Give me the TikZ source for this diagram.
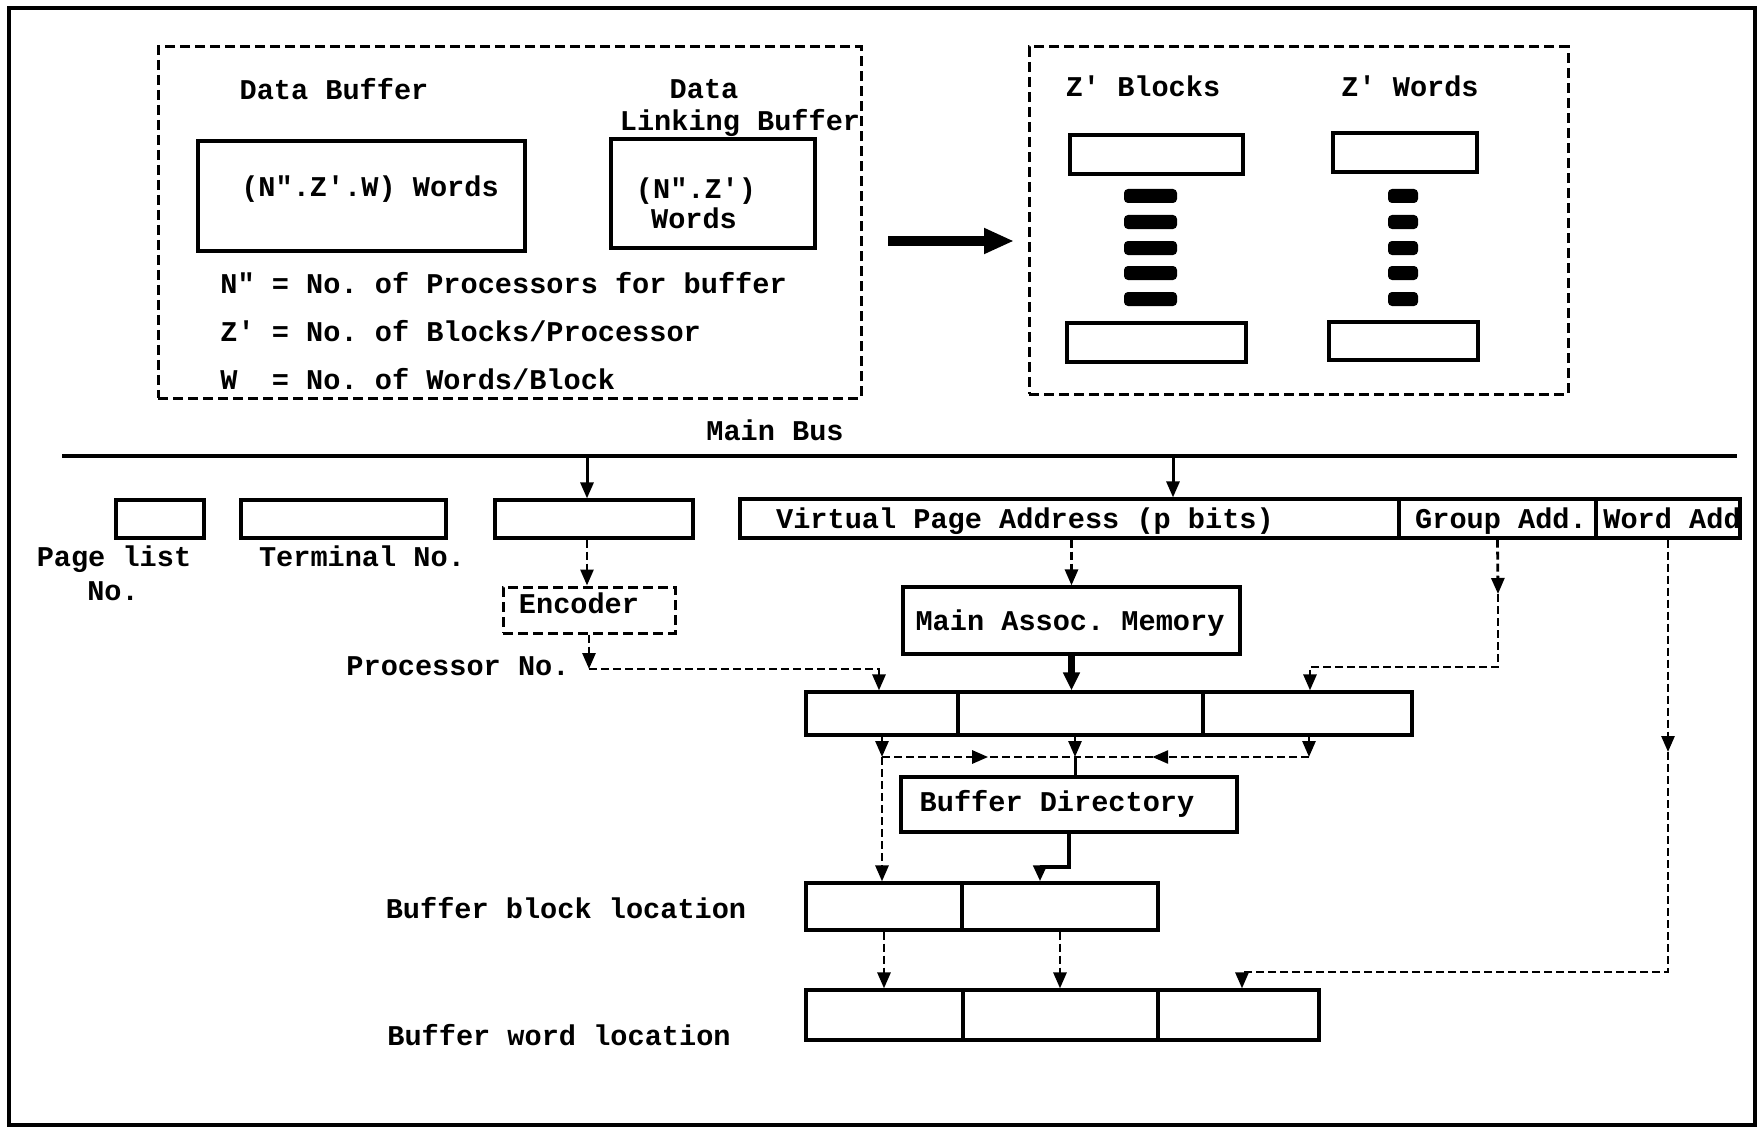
\documentclass[tikz,border=0pt]{standalone}
\usepackage{fontspec}
\newfontfamily\tw{Liberation Mono}
\usetikzlibrary{arrows.meta,fit,decorations.markings}
\tikzset{
  outerframe/.style={draw, line width=1.6pt},
  box/.style={draw, line width=1.6pt, inner sep=0pt},
  dbox/.style={draw, line width=1.5pt, dash pattern=on 5pt off 2.5pt, inner sep=0pt},
  txt/.style={inner sep=0pt, text height=8.2pt, text depth=0pt},
  headA/.style={-{Triangle[length=8pt,width=6.5pt]}},
  sline/.style={line width=1.5pt},
  dline/.style={line width=1.4pt, dash pattern=on 4pt off 2pt},
  darr/.style={dline, headA},
  sarr/.style={sline, headA},
  tarr/.style={line width=3.5pt, -{Triangle[length=9pt,width=8pt]}},
  busline/.style={line width=1.6pt},
  mida/.style={postaction={decorate}, decoration={markings, mark=at position #1 with {\arrow{Triangle[length=8pt,width=6.5pt]}}}}
}
\begin{document}
\frenchspacing
\begin{tikzpicture}[x=0.5pt,y=-0.5pt, font=\tw\bfseries\fontsize{14.3}{17}\selectfont\frenchspacing]
\useasboundingbox (0,0) rectangle (1763,1129);
\fill[white] (0,0) rectangle (1763,1129);
\draw[outerframe] (9,8) rectangle (1755,1125);

% ---------- top left group ----------
\node[dbox, fit={(158,47) (861,398)}] (tl) {};
\node[txt] (tDB) at (334,91) {Data Buffer};
\node[txt] (tData) at (704,90) {Data};
\node[txt] (tLB) at (740,122) {Linking Buffer};
\node[box, fit={(198,141) (525,251)}] (db) {};
\node[txt] (tdb) at (370,188) {(N".Z'.W) Words};
\node[box, fit={(611,139) (815,248)}] (lb) {};
\node[txt] (tlb1) at (696,190) {(N".Z')};
\node[txt] (tlb2) at (694,220) {Words};
\node[txt, anchor=west] (l1) at (220,285) {N" = No. of Processors for buffer};
\node[txt, anchor=west] (l2) at (220,333) {Z' = No. of Blocks/Processor};
\node[txt, anchor=west] (l3) at (220,381) {W~~= No. of Words/Block};

% thick arrow
\coordinate (ba1) at (888,241);
\coordinate (ba2) at (1014,241);
\draw[line width=5pt, -{Triangle[length=15pt,width=12pt]}] (ba1) -- (ba2);

% ---------- top right group ----------
\node[dbox, fit={(1029,47) (1568,394)}] (tr) {};
\node[txt] (tZB) at (1143,88) {Z' Blocks};
\node[txt] (tZW) at (1410,88) {Z' Words};
\node[box, fit={(1070,135) (1243,174)}] (zb1) {};
\node[box, fit={(1067,323) (1246,362)}] (zb2) {};
\node[box, fit={(1333,133) (1477,172)}] (zw1) {};
\node[box, fit={(1329,322) (1478,360)}] (zw2) {};
\foreach \yy in {196,222,248,273,299} {
  \fill[rounded corners=2pt] (1124,\yy-7) rectangle (1177,\yy+7);
  \fill[rounded corners=2pt] (1388,\yy-7) rectangle (1418,\yy+7);
}

% ---------- main bus ----------
\node[txt] (tMB) at (775,432) {Main Bus};
\coordinate (busL) at (62,456);
\coordinate (busR) at (1737,456);
\draw[busline] (busL) -- (busR);

% register row 1
\node[box, fit={(116,500) (204,538)}] (pl) {};
\node[box, fit={(241,500) (446,538)}] (tn) {};
\node[box, fit={(495,500) (693,538)}] (pn) {};
\node[box, fit={(740,499) (1399,538)}] (vpa) {};
\node[box, fit={(1399,499) (1596,538)}] (grp) {};
\node[box, fit={(1596,499) (1740,538)}] (wad) {};
\node[txt] (tvpa) at (1025,520) {Virtual Page Address (p bits)};
\node[txt] (tgrp) at (1501,520) {Group Add.};
\node[txt, anchor=west] (twad) at (1603,520) {Word Add};
\node[txt] (tpl1) at (114,558) {Page list};
\node[txt] (tpl2) at (113,592) {No.};
\node[txt] (ttn) at (362,558) {Terminal No.};

% encoder etc.
\node[dbox, fit={(503,587) (675,633)}] (enc) {};
\node[txt] (tenc) at (579,605) {Encoder};
\node[txt] (tpr) at (458,667) {Processor No.};
\node[box, fit={(903,587) (1240,654)}] (mam) {};
\node[txt] (tmam) at (1070,622) {Main Assoc. Memory};

% register row 2
\node[box, fit={(806,692) (958,735)}] (ra) {};
\node[box, fit={(958,692) (1203,735)}] (rb) {};
\node[box, fit={(1203,692) (1412,735)}] (rc) {};

\node[box, fit={(901,777) (1237,832)}] (bd) {};
\node[txt] (tbd) at (1057,803) {Buffer Directory};

\node[box, fit={(806,883) (962,930)}] (bla) {};
\node[box, fit={(962,883) (1158,930)}] (blb) {};
\node[txt] (tbl) at (566,910) {Buffer block location};

\node[box, fit={(806,990) (963,1040)}] (wa) {};
\node[box, fit={(963,990) (1158,1040)}] (wb) {};
\node[box, fit={(1158,990) (1319,1040)}] (wc) {};
\node[txt] (twl) at (559,1037) {Buffer word location};

% ---------- connectors ----------
\coordinate (b3) at (587,456);
\draw[sarr] (b3) -- (b3 |- pn.north);
\coordinate (b4) at (1173,456);
\draw[sarr] (b4) -- (b4 |- vpa.north);
\draw[darr] (b3 |- pn.south) -- (b3 |- enc.north);

\coordinate (pc) at (589,669);
\coordinate (p2) at (879,669);
\draw[darr] (pc |- enc.south) -- (pc);
\draw[darr] (pc) -- (p2) -- (p2 |- ra.north);

\draw[darr] (mam.north |- vpa.south) -- (mam.north);
\draw[tarr] (mam.south) -- (mam.south |- rb.north);

\coordinate (g1) at (1498,594);
\coordinate (g2) at (1498,667);
\coordinate (g3) at (1310,667);
\draw[darr] (grp.south) -- (g1);
\draw[darr] (g1) -- (g2) -- (g3) -- (g3 |- rc.north);

\coordinate (w1) at (1668,752);
\coordinate (w2) at (1668,972);
\coordinate (w3) at (1242,972);
\draw[darr] (wad.south) -- (w1);
\draw[darr] (w1) -- (w2) -- (w3) -- (w3 |- wc.north);

\coordinate (j1) at (882,757);
\coordinate (j2) at (1075,757);
\coordinate (j3) at (1309,757);
\draw[darr] (j1 |- ra.south) -- (j1);
\draw[darr] (j2 |- rb.south) -- (j2);
\draw[darr] (j3 |- rc.south) -- (j3);
\draw[dline, mida=0.55] (j1) -- (j2);
\draw[dline, mida=0.67] (j3) -- (j2);
\draw[sline] (j2) -- (j2 |- bd.north);
\draw[darr] (j1) -- (j1 |- bla.north);

\coordinate (k1) at (1069,867);
\coordinate (k2) at (1040,867);
\draw[sarr, line width=2.2pt] (bd.south) -- (k1) -- (k2) -- (k2 |- blb.north);

\draw[darr] (bla.south) -- (bla.south |- wa.north);
\draw[darr] (blb.south) -- (blb.south |- wb.north);
\end{tikzpicture}
\end{document}
